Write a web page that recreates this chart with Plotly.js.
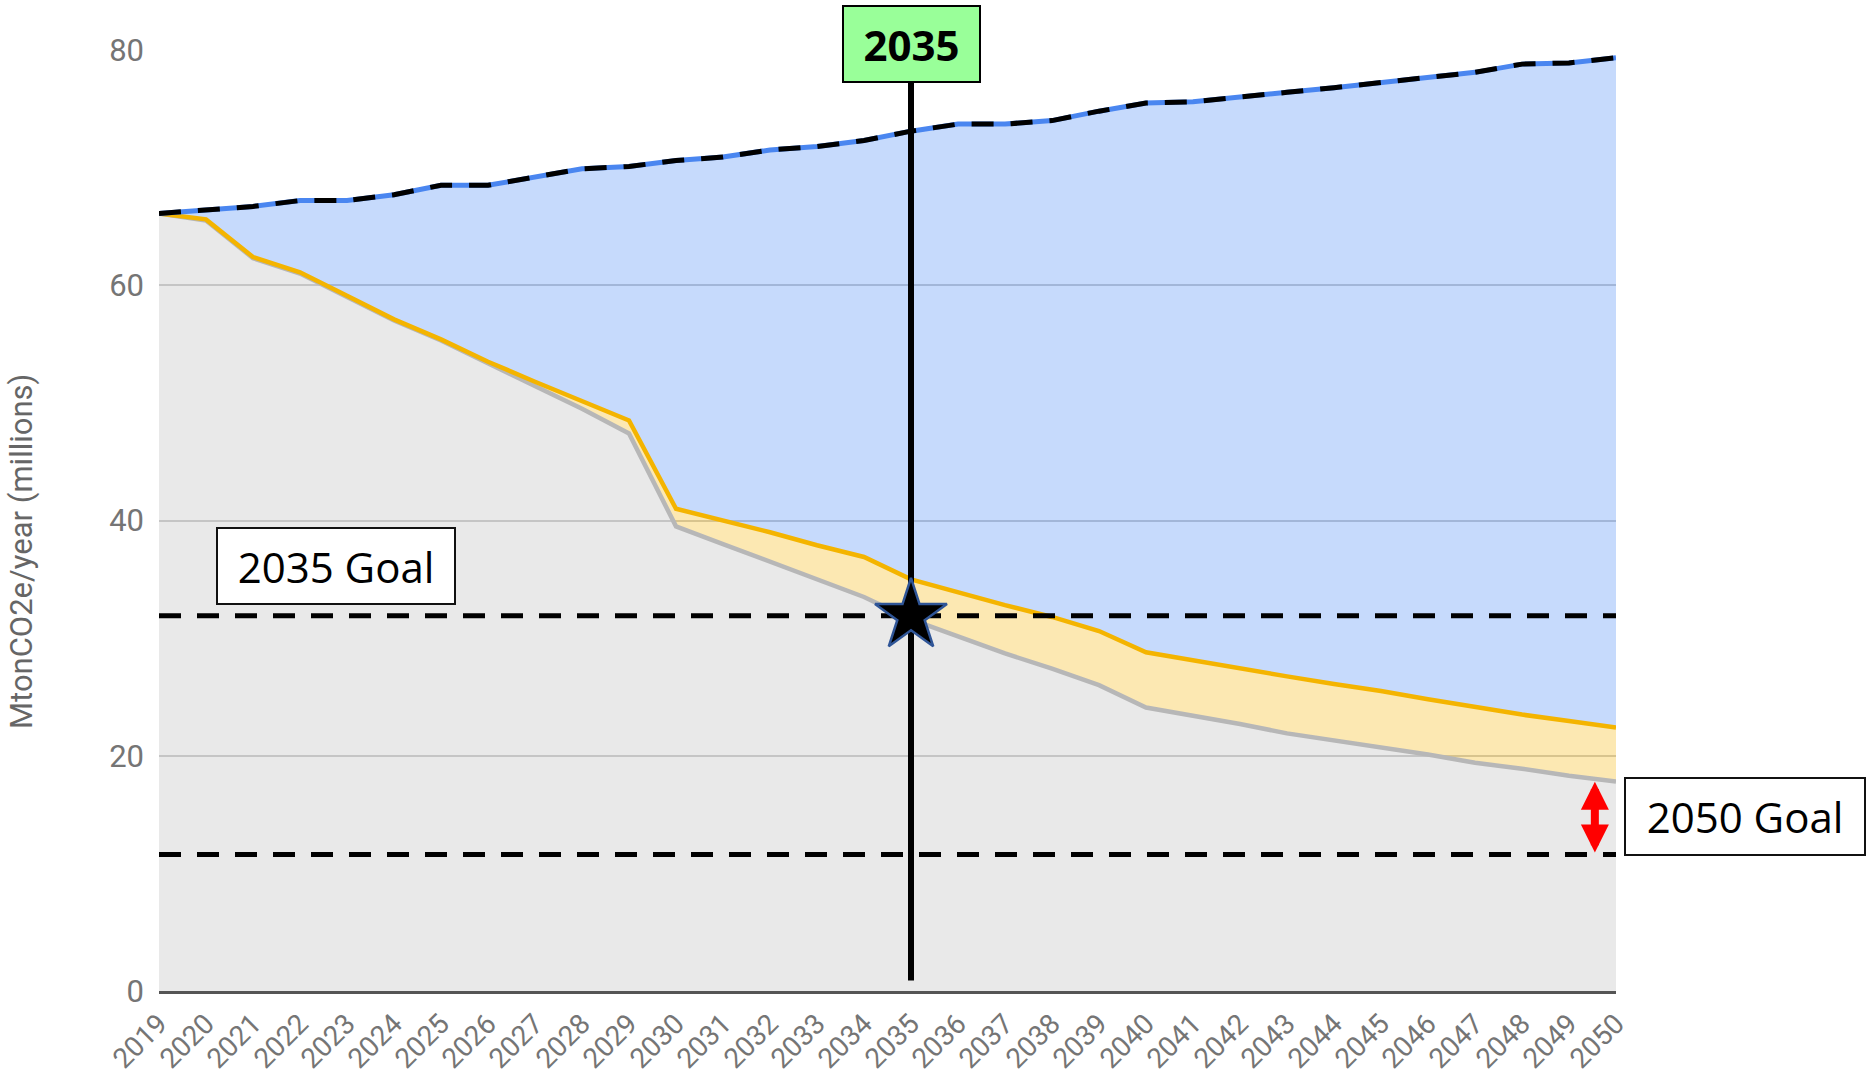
<!DOCTYPE html>
<html>
<head>
<meta charset="utf-8">
<script src="https://cdn.plot.ly/plotly-3.0.1.min.js"></script>
<style>
html,body{margin:0;padding:0;background:#fff;}
#chart{width:1868px;height:1080px;}
</style>
</head>
<body>
<div id="chart"></div>
<script>
// ---- data ----
const years = [2019,2020,2021,2022,2023,2024,2025,2026,2027,2028,2029,2030,2031,2032,2033,2034,2035,2036,2037,2038,2039,2040,2041,2042,2043,2044,2045,2046,2047,2048,2049,2050];
const yearLabels = years.map(String);
// grey series (lowest line)
const greySeries = [66.1,65.5,62.3,61.0,59.0,57.0,55.3,53.4,51.5,49.5,47.4,39.5,38.0,36.5,35.0,33.5,31.6,30.1,28.7,27.4,26.0,24.1,23.4,22.7,21.9,21.3,20.7,20.1,19.4,18.9,18.3,17.8];
// orange series (middle line)
const orangeSeries = [66.1,65.6,62.4,61.1,59.1,57.1,55.4,53.5,51.8,50.2,48.5,41.0,40.0,39.0,37.9,36.9,35.0,33.9,32.8,31.8,30.6,28.8,28.1,27.4,26.75,26.1,25.5,24.8,24.15,23.5,22.95,22.4];
// blue series (top line)
const blueSeries = [66.1,66.4,66.7,67.2,67.2,67.7,68.5,68.5,69.2,69.9,70.1,70.6,70.9,71.5,71.8,72.3,73.1,73.7,73.7,74.0,74.8,75.5,75.6,75.95,76.4,76.8,77.2,77.7,78.1,78.8,78.9,79.35];
const goal2035 = 31.9;
const goal2050 = 11.6;
const targetYear = 2035;
const yTickVals = [0,20,40,60,80];
const yTickText = ['0','20','40','60','80'];
const yTitle = 'MtonCO2e/year (millions)';

// ---- traces ----
const first = years[0], last = years[years.length-1];
const traces = [
  {x: years, y: greySeries, type:'scatter', mode:'lines', fill:'tozeroy',
   fillcolor:'rgba(183,183,183,0.3)', line:{color:'#b7b7b7', width:4.5}, hoverinfo:'skip'},
  {x: years, y: orangeSeries, type:'scatter', mode:'lines', fill:'tonexty',
   fillcolor:'rgba(244,180,0,0.3)', line:{color:'#f4b400', width:4.5}, hoverinfo:'skip'},
  {x: years, y: blueSeries, type:'scatter', mode:'lines', fill:'tonexty',
   fillcolor:'rgba(66,133,244,0.3)', line:{color:'#4a86f0', width:5}, hoverinfo:'skip'},
  {x: years, y: blueSeries, type:'scatter', mode:'lines',
   line:{color:'#000', width:5, dash:'22px,17px'}, hoverinfo:'skip'},
  {x: [first, last], y: [goal2035, goal2035], type:'scatter', mode:'lines',
   line:{color:'#000', width:5, dash:'22px,16px'}, hoverinfo:'skip'},
  {x: [first, last], y: [goal2050, goal2050], type:'scatter', mode:'lines',
   line:{color:'#000', width:5, dash:'22px,16px'}, hoverinfo:'skip'},
  {x: [targetYear, targetYear], y: [0.9, 77.6], type:'scatter', mode:'lines',
   line:{color:'#000', width:6}, hoverinfo:'skip', cliponaxis:false},
  {x: [targetYear], y: [goal2035], type:'scatter', mode:'markers',
   marker:{symbol:'star', size:54, color:'#000', line:{color:'#2f5597', width:2.5}},
   hoverinfo:'skip', cliponaxis:false}
];

const layout = {
  width:1868, height:1080,
  margin:{l:159, r:252, t:50, b:89},
  paper_bgcolor:'#fff', plot_bgcolor:'#fff',
  showlegend:false,
  xaxis:{
    range:[first, last], tickvals: years, ticktext: yearLabels,
    tickangle:-45, showgrid:false, zeroline:false,
    showline:true, linecolor:'#555', linewidth:3,
    ticks:'', ticklabelstandoff:2,
    tickfont:{family:'Roboto, Arial, sans-serif', size:28, color:'#757575'}
  },
  yaxis:{
    range:[0,80], tickvals:yTickVals, ticktext:yTickText,
    showgrid:true, gridcolor:'#cccccc', gridwidth:2,
    zeroline:false, showline:false, ticks:'', ticklabelstandoff:14,
    tickfont:{family:'Roboto, Arial, sans-serif', size:31, color:'#757575'}
  },
  annotations:[
    {text:yTitle, textangle:-90, xref:'paper', yref:'paper',
     x:-0.0944, y:0.467, xanchor:'center', yanchor:'middle', showarrow:false,
     font:{family:'Roboto, Arial, sans-serif', size:31, color:'#666'}},
    {text:'<b>' + targetYear + '</b>', xref:'x', yref:'paper', x:targetYear, y:1.0064,
     xanchor:'center', yanchor:'middle', showarrow:false,
     width:135, height:74, bgcolor:'#99ff99', bordercolor:'#000', borderwidth:2, borderpad:0,
     font:{family:'Open Sans, sans-serif', size:42, color:'#000'}},
    {text:'2035 Goal', xref:'x', yref:'y', x:2022.77, y:36.1,
     xanchor:'center', yanchor:'middle', showarrow:false,
     width:236, height:74, bgcolor:'#fff', bordercolor:'#111', borderwidth:2, borderpad:0,
     font:{family:'Open Sans, sans-serif', size:42, color:'#000'}},
    {text:'2050 Goal', xref:'paper', yref:'y', x:1.0885, y:14.8,
     xanchor:'center', yanchor:'middle', showarrow:false,
     width:238, height:75, bgcolor:'#fff', bordercolor:'#111', borderwidth:2, borderpad:0,
     font:{family:'Open Sans, sans-serif', size:42, color:'#000'}},
    {text:' ', font:{size:1}, xref:'x', yref:'y', x:2049.55, y:greySeries[greySeries.length-1],
     axref:'x', ayref:'y', ax:2049.55, ay:goal2050, showarrow:true,
     arrowside:'end+start', arrowhead:2, startarrowhead:2, arrowsize:0.7, startarrowsize:0.7,
     arrowwidth:8, arrowcolor:'#ff0000', standoff:0, startstandoff:0}
  ]
};

Plotly.newPlot('chart', traces, layout, {displayModeBar:false, staticPlot:true});
</script>
</body>
</html>
